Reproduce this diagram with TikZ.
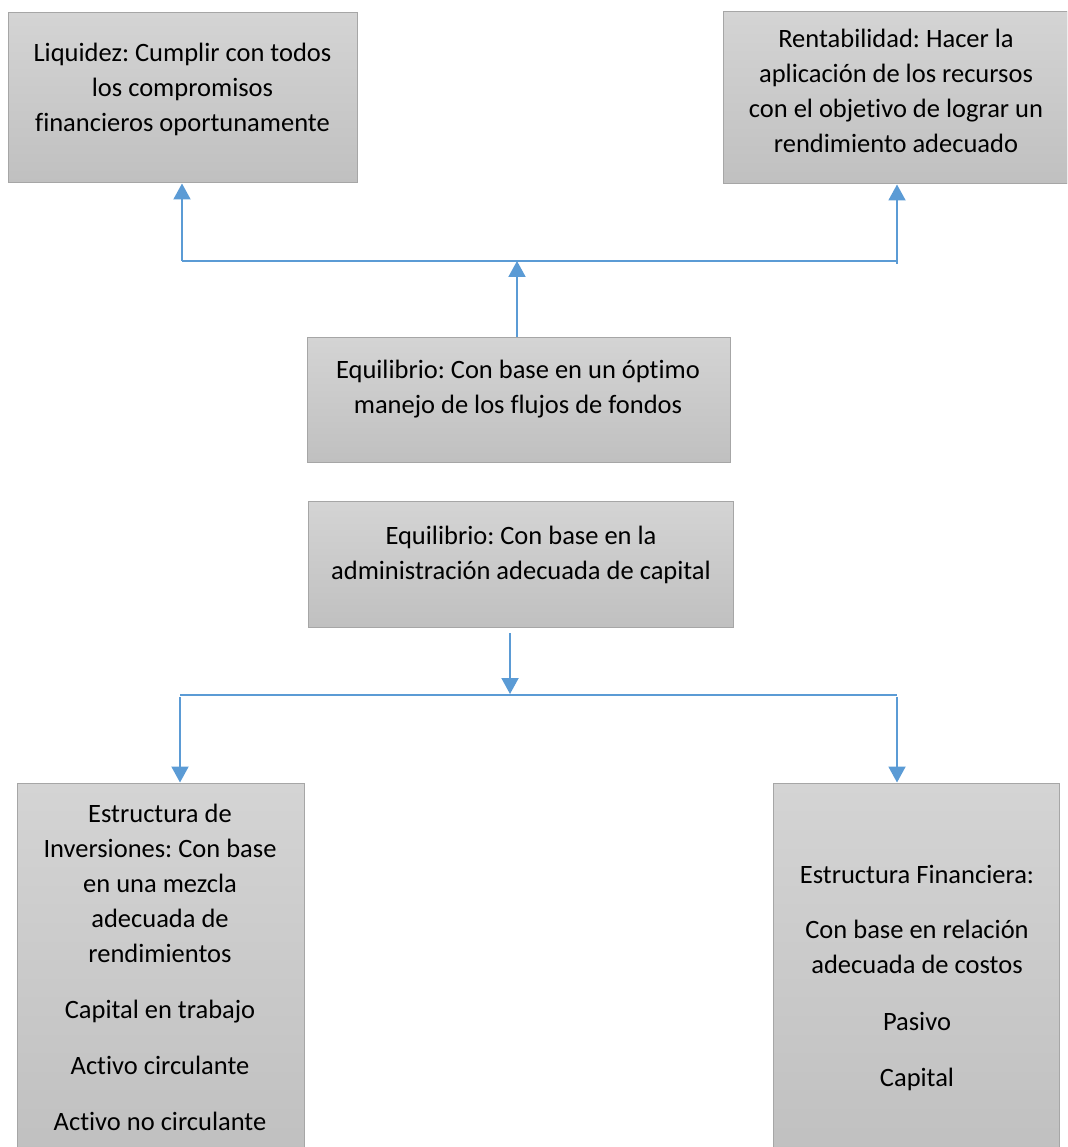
\documentclass[tikz,border=0pt]{standalone}
\usepackage{fontspec}
\setmainfont{Carlito}[Ligatures=NoCommon]
\usetikzlibrary{arrows.meta}
\frenchspacing

\definecolor{boxtop}{HTML}{D4D4D4}
\definecolor{boxbot}{HTML}{C0C0C0}
\definecolor{boxline}{HTML}{A6A6A6}
\definecolor{linkblue}{HTML}{5B9BD5}

\tikzset{
  box/.style={rectangle, draw=boxline, line width=1pt,
    top color=boxtop, bottom color=boxbot, inner sep=0pt},
  txt/.style={align=center, inner sep=0pt, text=black,
    font=\fontsize{26.5}{35}\selectfont},
  arr/.style={draw=linkblue, line width=2pt,
    -{Triangle[width=17pt,length=16pt]}},
  hline/.style={draw=linkblue, line width=1.3pt}
}

\begin{document}
\begin{tikzpicture}[x=1pt, y=-1pt]
\useasboundingbox (0,0) rectangle (1067,1147);
\clip (0,0) rectangle (1067,1147);

% boxes
\node[box, minimum width=349pt, minimum height=170pt] (liq)  at (182.5,98)  {};
\node[box, minimum width=344pt, minimum height=172pt] (rent) at (895,98)    {};
\node[box, minimum width=423pt, minimum height=125pt] (eq1)  at (518.5,399.5) {};
\node[box, minimum width=425pt, minimum height=126pt] (eq2)  at (520.5,564) {};
\node[box, minimum width=287pt, minimum height=372pt] (inv)  at (160.5,969) {};
\node[box, minimum width=286pt, minimum height=372pt] (fin)  at (916,969)   {};

% texts
\node[txt] (liqt) at (182.5,89.5) {Liquidez: Cumplir con todos\\los compromisos\\financieros oportunamente};
\node[txt] (rentt) at (896,91) {Rentabilidad: Hacer la\\aplicación de los recursos\\con el objetivo de lograr un\\rendimiento adecuado};
\node[txt] (eq1t) at (518,389) {Equilibrio: Con base en un óptimo\\manejo de los flujos de fondos};
\node[txt] (eq2t) at (521,555) {Equilibrio: Con base en la\\administración adecuada de capital};
\node[txt] (invt) at (160,967) {Estructura de\\Inversiones: Con base\\en una mezcla\\adecuada de\\rendimientos\\[21pt]Capital en trabajo\\[21pt]Activo circulante\\[21pt]Activo no circulante};
\node[txt] (fint) at (917,978.5) {Estructura Financiera:\\[20pt]Con base en relación\\adecuada de costos\\[22pt]Pasivo\\[21pt]Capital};

% upper connector
\coordinate (tl) at (182,261);
\coordinate (tr) at (897,261);
\coordinate (tc) at (517,261);
\coordinate (trs) at (897,264);
\draw[hline] (tl) -- (tr);
\draw[arr] (tl) -- (tl |- liq.south);
\draw[arr] (trs) -- (trs |- rent.south);
\draw[arr] (tc |- eq1.north) -- (tc);

% lower connector
\coordinate (bl) at (180,695);
\coordinate (br) at (897,695);
\coordinate (bc) at (510,694);
\coordinate (bcs) at (510,633);
\coordinate (bls) at (180,697);
\coordinate (brs) at (897,697);
\draw[hline] (bl) -- (br);
\draw[arr] (bcs) -- (bc);
\draw[arr] (bls) -- (bls |- inv.north);
\draw[arr] (brs) -- (brs |- fin.north);
\end{tikzpicture}
\end{document}
